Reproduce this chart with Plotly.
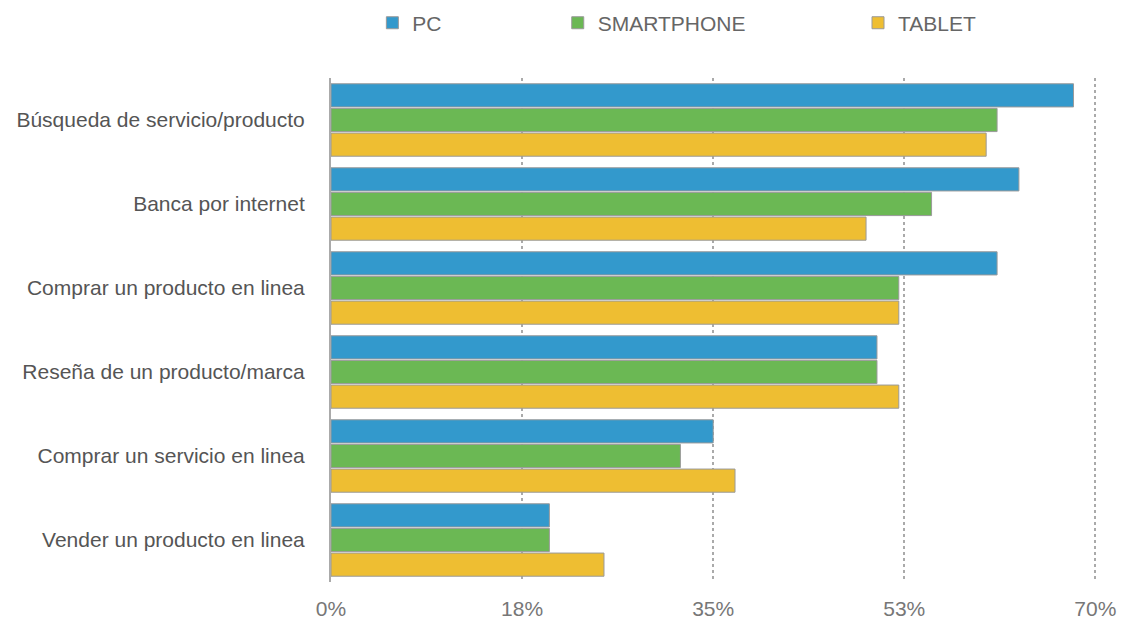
import plotly.graph_objects as go

categories = [
    "Búsqueda de servicio/producto",
    "Banca por internet",
    "Comprar un producto en linea",
    "Reseña de un producto/marca",
    "Comprar un servicio en linea",
    "Vender un producto en linea",
]
pc = [68, 63, 61, 50, 35, 20]
smartphone = [61, 55, 52, 50, 32, 20]
tablet = [60, 49, 52, 52, 37, 25]

tick_vals = [0, 17.5, 35, 52.5, 70]
tick_text = ["0%", "18%", "35%", "53%", "70%"]

series = [
    ("PC", pc, "#3399CC", "legend", 0.054),
    ("SMARTPHONE", smartphone, "#6BB854", "legend2", 0.296),
    ("TABLET", tablet, "#EEBE32", "legend3", 0.688),
]

FONT = "Liberation Sans, Arial, sans-serif"

fig = go.Figure()
for name, vals, color, lg, _ in series:
    fig.add_trace(go.Bar(
        name=name, y=categories, x=vals, orientation="h",
        marker=dict(color=color, line=dict(color="#9a9a9a", width=1)),
        legend=lg, showlegend=True,
    ))

legend_common = dict(orientation="h", yref="container", yanchor="middle", y=0.963,
                     xanchor="left", bgcolor="rgba(0,0,0,0)", visible=True,
                     font=dict(family=FONT, size=21, color="#666666"))
layout_legends = {}
for name, vals, color, lg, xpos in series:
    layout_legends[lg] = dict(legend_common, x=xpos)

fig.update_layout(
    width=1125, height=624,
    margin=dict(l=331, r=28, t=78, b=42, autoexpand=False),
    paper_bgcolor="white", plot_bgcolor="white",
    barmode="group", bargap=0.12, bargroupgap=0.06,
    showlegend=True,
    font=dict(family=FONT, size=21, color="#555555"),
    **layout_legends,
)
fig.update_xaxes(
    range=[0, 70.15], tickvals=tick_vals, ticktext=tick_text,
    showgrid=True, gridcolor="#aaaaaa", griddash="dot", gridwidth=2,
    zeroline=False, showline=False, automargin=False,
    tickfont=dict(family=FONT, size=21, color="#777777"),
    ticklabelstandoff=12,
)
fig.update_yaxes(
    autorange="reversed", showgrid=False, automargin=False,
    showline=True, linecolor="#aaaaaa", linewidth=2,
    tickfont=dict(family=FONT, size=21, color="#555555"),
    ticklabelstandoff=20,
)

fig.write_html("out.html")
